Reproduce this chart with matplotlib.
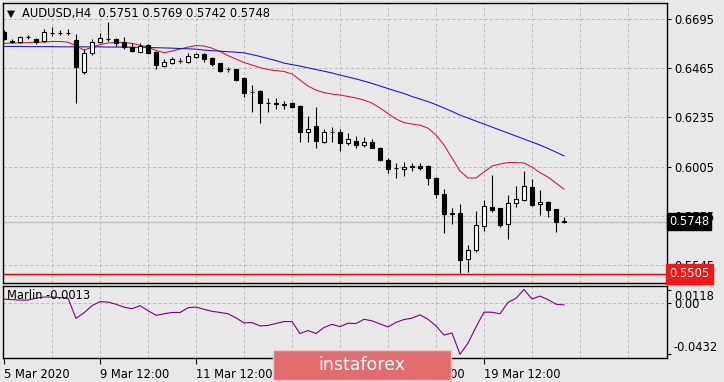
import numpy as np
import matplotlib
matplotlib.use("Agg")
import matplotlib.pyplot as plt
from matplotlib.patches import Rectangle

# AUDUSD H4 candles, 5 Mar 2020 12:00 onward
opens = [0.6635, 0.6590, 0.6587, 0.6610, 0.6601, 0.6592, 0.6630, 0.6629, 0.6630, 0.6596,
         0.6446, 0.6535, 0.6587, 0.6600, 0.6601, 0.6587, 0.6564, 0.6540, 0.6573, 0.6542,
         0.6476, 0.6488, 0.6499, 0.6495, 0.6518, 0.6531, 0.6512, 0.6488, 0.6461, 0.6460,
         0.6418, 0.6355, 0.6359, 0.6303, 0.6300, 0.6297, 0.6302, 0.6287, 0.6166, 0.6197,
         0.6119, 0.6165, 0.6166, 0.6115, 0.6127, 0.6104, 0.6122, 0.6094, 0.6038, 0.5999,
         0.5996, 0.6004, 0.6010, 0.6010, 0.5953, 0.5878, 0.5786, 0.5786, 0.5573, 0.5615,
         0.5727, 0.5818, 0.5811, 0.5737, 0.5835, 0.5849, 0.5910, 0.5830, 0.5841, 0.5806,
         0.5751]
highs = [0.6643, 0.6601, 0.6615, 0.6620, 0.6606, 0.6648, 0.6657, 0.6643, 0.6648, 0.6625,
         0.6554, 0.6601, 0.6629, 0.6681, 0.6606, 0.6611, 0.6582, 0.6582, 0.6578, 0.6545,
         0.6507, 0.6517, 0.6512, 0.6535, 0.6537, 0.6535, 0.6517, 0.6490, 0.6470, 0.6463,
         0.6423, 0.6385, 0.6362, 0.6324, 0.6324, 0.6310, 0.6305, 0.6291, 0.6240, 0.6282,
         0.6183, 0.6188, 0.6179, 0.6161, 0.6146, 0.6143, 0.6132, 0.6099, 0.6047, 0.6024,
         0.6025, 0.6022, 0.6024, 0.6012, 0.5955, 0.5902, 0.5813, 0.5831, 0.5638, 0.5797,
         0.5849, 0.5966, 0.5813, 0.5872, 0.5914, 0.5986, 0.5947, 0.5896, 0.5843, 0.5808,
         0.5769]
lows = [0.6596, 0.6582, 0.6582, 0.6601, 0.6578, 0.6587, 0.6615, 0.6620, 0.6620, 0.6301,
        0.6437, 0.6526, 0.6582, 0.6592, 0.6568, 0.6554, 0.6540, 0.6535, 0.6531, 0.6460,
        0.6470, 0.6484, 0.6488, 0.6488, 0.6512, 0.6493, 0.6474, 0.6448, 0.6446, 0.6406,
        0.6330, 0.6259, 0.6208, 0.6259, 0.6273, 0.6273, 0.6280, 0.6119, 0.6119, 0.6094,
        0.6115, 0.6119, 0.6077, 0.6104, 0.6090, 0.6096, 0.6090, 0.6030, 0.5977, 0.5953,
        0.5963, 0.5983, 0.5991, 0.5920, 0.5860, 0.5695, 0.5737, 0.5506, 0.5514, 0.5607,
        0.5705, 0.5794, 0.5724, 0.5667, 0.5816, 0.5846, 0.5821, 0.5779, 0.5771, 0.5700,
        0.5742]
closes = [0.6601, 0.6593, 0.6611, 0.6612, 0.6587, 0.6634, 0.6631, 0.6630, 0.6632, 0.6470,
          0.6535, 0.6587, 0.6606, 0.6602, 0.6582, 0.6564, 0.6545, 0.6568, 0.6535, 0.6479,
          0.6495, 0.6507, 0.6500, 0.6521, 0.6531, 0.6507, 0.6484, 0.6452, 0.6460, 0.6409,
          0.6349, 0.6353, 0.6302, 0.6301, 0.6302, 0.6295, 0.6283, 0.6166, 0.6183, 0.6124,
          0.6166, 0.6167, 0.6115, 0.6132, 0.6104, 0.6122, 0.6094, 0.6038, 0.5996, 0.6000,
          0.6005, 0.6006, 0.6000, 0.5953, 0.5878, 0.5784, 0.5784, 0.5569, 0.5615, 0.5732,
          0.5821, 0.5802, 0.5732, 0.5835, 0.5854, 0.5914, 0.5825, 0.5841, 0.5802, 0.5747,
          0.5748]

# moving averages
ma_red = [0.6581, 0.6583, 0.6583, 0.6585, 0.6587, 0.6587, 0.6590, 0.6590, 0.6587, 0.6569,
          0.6550, 0.6562, 0.6576, 0.6583, 0.6586, 0.6585, 0.6581, 0.6573, 0.6564, 0.6548,
          0.6538, 0.6545, 0.6555, 0.6564, 0.6571, 0.6569, 0.6559, 0.6543, 0.6524, 0.6508,
          0.6492, 0.6480, 0.6468, 0.6459, 0.6454, 0.6450, 0.6438, 0.6410, 0.6382, 0.6363,
          0.6351, 0.6344, 0.6340, 0.6333, 0.6326, 0.6316, 0.6302, 0.6279, 0.6253, 0.6228,
          0.6211, 0.6204, 0.6199, 0.6185, 0.6153, 0.6106, 0.6045, 0.5984, 0.5952, 0.5952,
          0.5980, 0.6008, 0.6017, 0.6024, 0.6024, 0.6022, 0.6003, 0.5977, 0.5956, 0.5928,
          0.5900]
ma_blue = [0.6567, 0.6567, 0.6567, 0.6566, 0.6566, 0.6566, 0.6566, 0.6565, 0.6565, 0.6565,
           0.6565, 0.6565, 0.6565, 0.6564, 0.6564, 0.6564, 0.6563, 0.6563, 0.6562, 0.6561,
           0.6560, 0.6559, 0.6557, 0.6556, 0.6554, 0.6550, 0.6547, 0.6545, 0.6542, 0.6540,
           0.6537, 0.6529, 0.6520, 0.6510, 0.6501, 0.6489, 0.6482, 0.6475, 0.6467, 0.6459,
           0.6451, 0.6443, 0.6433, 0.6424, 0.6415, 0.6405, 0.6394, 0.6382, 0.6370, 0.6358,
           0.6347, 0.6333, 0.6321, 0.6309, 0.6295, 0.6279, 0.6263, 0.6246, 0.6232, 0.6218,
           0.6204, 0.6190, 0.6176, 0.6162, 0.6148, 0.6134, 0.6120, 0.6106, 0.6090, 0.6073,
           0.6055]

# Marlin oscillator
marlin = [0.0036, 0.0032, 0.0028, 0.0028, 0.0045, 0.0054, 0.0054, 0.0049, 0.0045, -0.0127,
          -0.0080, -0.0019, 0.0015, 0.0011, -0.0007, -0.0032, -0.0045, -0.0019, -0.0062, -0.0101,
          -0.0088, -0.0077, -0.0077, -0.0037, -0.0031, -0.0050, -0.0067, -0.0077, -0.0088, -0.0123,
          -0.0165, -0.0163, -0.0191, -0.0187, -0.0170, -0.0154, -0.0154, -0.0256, -0.0230, -0.0256,
          -0.0204, -0.0178, -0.0197, -0.0168, -0.0171, -0.0135, -0.0148, -0.0174, -0.0200, -0.0161,
          -0.0137, -0.0125, -0.0097, -0.0135, -0.0191, -0.0269, -0.0251, -0.0432, -0.0337, -0.0200,
          -0.0074, -0.0075, -0.0088, 0.0009, 0.0043, 0.0118, 0.0038, 0.0062, 0.0032, -0.0007,
          -0.0013]

price_ticks = [0.6695, 0.6465, 0.6235, 0.6005, 0.5775, 0.5545]
time_ticks = [0, 12, 24, 36, 48, 60]
time_labels = ["5 Mar 2020", "9 Mar 12:00", "11 Mar 12:00", "13 Mar 12:00",
               "17 Mar 12:00", "19 Mar 12:00"]
last_price = 0.5748
low_level = 0.5505

bg = "#E8E8E8"
grid_col = "#B8B8B8"
dash = (0, (3, 2.5))

plt.rcParams["font.family"] = "DejaVu Sans"
plt.rcParams["font.size"] = 8

fig = plt.figure(figsize=(7.24, 3.82), dpi=100, facecolor=bg)
W, H = 724, 382
ax = fig.add_axes([2.5 / W, 1 - 283 / H, 664.5 / W, 280 / H], facecolor=bg)
ax2 = fig.add_axes([2.5 / W, 1 - 358.3 / H, 664.5 / W, 72.8 / H], facecolor=bg)

x = np.arange(len(opens))
o = np.array(opens)
c = np.array(closes)
up = c >= o

# grid
for a in (ax, ax2):
    for gx in np.arange(6, 84, 6):
        a.axvline(gx, color=grid_col, lw=0.7, ls=dash, zorder=0)
for p in price_ticks:
    ax.axhline(p, color=grid_col, lw=0.7, ls=dash, zorder=0)
ax2.axhline(0, color=grid_col, lw=0.7, ls=dash, zorder=0)

# levels
ax.axhline(last_price, color="#C0C0C0", lw=1, zorder=1)
ax.axhline(low_level, color="#E00000", lw=1, zorder=1)

# moving averages
ax.plot(x, ma_red, color="#D0163C", lw=0.75, zorder=2)
ax.plot(x, ma_blue, color="#1414C8", lw=0.75, zorder=2)

# candles
ax.vlines(x, lows, highs, color="black", lw=0.8, zorder=3)
ax.bar(x, np.abs(c - o), bottom=np.minimum(o, c), width=0.6,
       color=np.where(up, "white", "black"), edgecolor="black", linewidth=0.8, zorder=4)

ax.set_xlim(-0.19, 82.875)
ax.set_ylim(0.5461, 0.6770)
ax.set_xticks([])
ax.yaxis.tick_right()
ax.set_yticks(price_ticks)
ax.set_yticklabels([f"{p:.4f}" for p in price_ticks])
ax.tick_params(axis="y", length=3, width=0.8, pad=2, labelsize=8.3)

# header
ax.text(0.0128, 0.962, "\u25bc", transform=ax.transAxes, ha="center", va="center", fontsize=7.5)
ax.text(0.0289, 0.964, "AUDUSD,H4  0.5751 0.5769 0.5742 0.5748", transform=ax.transAxes,
        ha="left", va="center", fontsize=8.3)

# price boxes on the scale
ax.text(1.003, last_price, f"{last_price:.4f}", transform=ax.get_yaxis_transform(),
        ha="left", va="center", color="white", fontsize=8.3, clip_on=False, zorder=10,
        bbox=dict(boxstyle="square,pad=0.2", fc="black", ec="black"))
ax.text(1.003, low_level, f"{low_level:.4f}", transform=ax.get_yaxis_transform(),
        ha="left", va="center", color="white", fontsize=8.3, clip_on=False, zorder=10,
        bbox=dict(boxstyle="square,pad=0.3", fc="#F01818", ec="#F01818"))

# Marlin panel
ax2.plot(x, marlin, color="#800080", lw=0.8)
ax2.set_xlim(-0.19, 82.875)
ax2.set_ylim(-0.0466, 0.0152)
ax2.yaxis.tick_right()
ax2.set_yticks([0.0118, 0.0, -0.0432])
ax2.set_yticklabels(["0.0118", "0.00", "-0.0432"])
lbls = ax2.get_yticklabels()
lbls[0].set_va("top")
lbls[2].set_va("bottom")
ax2.tick_params(axis="y", length=3, width=0.8, pad=2, labelsize=8.3)
ax2.set_xticks(time_ticks)
ax2.set_xticklabels(time_labels, ha="left")
ax2.tick_params(axis="x", length=4, width=0.8, pad=3, labelsize=8.3)
ax2.text(0.0072, 0.856, f"Marlin {marlin[-1]:.4f}", transform=ax2.transAxes,
         ha="left", va="center", fontsize=8.3)

for a in (ax, ax2):
    for s in a.spines.values():
        s.set_color("black")
        s.set_linewidth(1)

# watermark
fig.patches.append(Rectangle((273 / W, 1 - 380 / H), 178 / W, 30 / H, transform=fig.transFigure,
                             facecolor="#E36D6D", edgecolor="#F2C8C8", lw=1, zorder=20))
fig.text(362 / W, 1 - 365 / H, "instaforex", ha="center", va="center", color="white",
         fontsize=12.5, zorder=21)

fig.savefig("out.png", dpi=100, facecolor=bg)
